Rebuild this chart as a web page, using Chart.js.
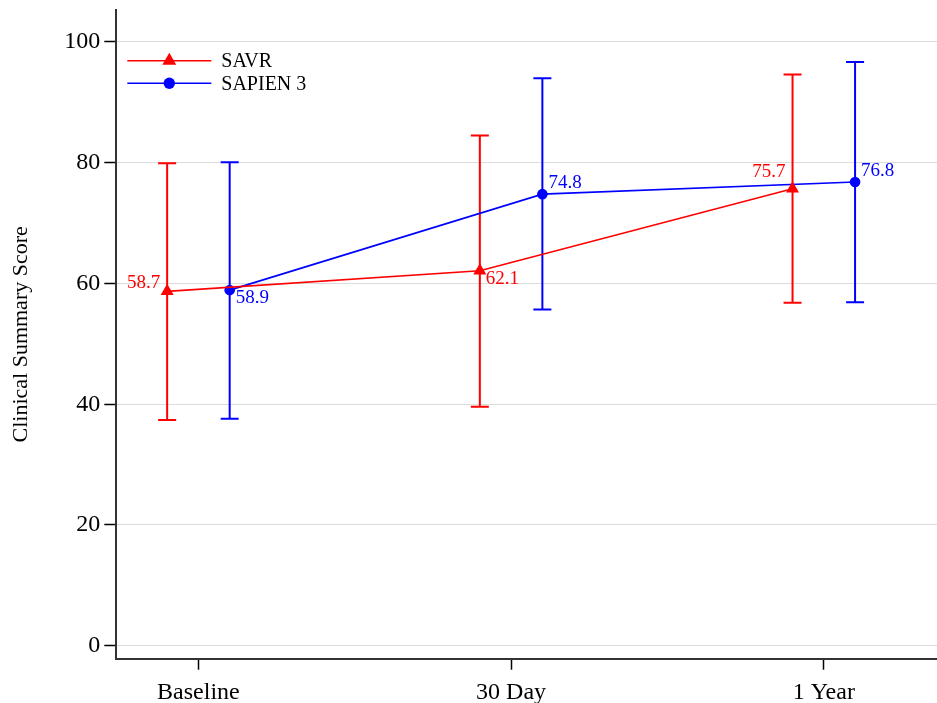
<!DOCTYPE html>
<html><head><meta charset="utf-8">
<script src="https://cdn.jsdelivr.net/npm/chart.js@4.4.1/dist/chart.umd.min.js"></script>
<style>html,body{margin:0;padding:0;background:#fff;overflow:hidden}canvas{display:block}</style>
</head><body><canvas id="c" width="937" height="703"></canvas>
<script>
// ---- data ----
const categories = ['Baseline', '30 Day', '1 Year'];
const seriesNames = ['SAVR', 'SAPIEN 3'];
const savrMean = [58.7, 62.1, 75.7];
const savrLow  = [37.4, 39.6, 56.8];
const savrHigh = [79.9, 84.5, 94.6];
const s3Mean = [58.9, 74.8, 76.8];
const s3Low  = [37.6, 55.7, 56.9];
const s3High = [80.1, 94.0, 96.7];
const yTicks = [0, 20, 40, 60, 80, 100];

// ---- style ----
const RED = 'rgb(255,0,0)', BLUE = 'rgb(0,0,255)';
const FONT = "'Liberation Serif', 'Times New Roman', serif";
const groupOffset = [-0.1, 0.1];
// label offsets in px from point: [dx, dy]; negative dx => right aligned to the left
const labelOffsets = [
  [[-7, -8], [6, 8], [-7, -17]],
  [[6, 8], [6, -11], [6, -11]]
];

Chart.defaults.font.family = FONT;

const lows = [savrLow, s3Low], highs = [savrHigh, s3High];

function pts(vals, off) { return vals.map((v, i) => ({ x: i + off, y: v })); }

const errorBars = {
  id: 'errorBars',
  beforeDatasetsDraw(chart) {
    const ctx = chart.ctx, ys = chart.scales.y;
    chart.data.datasets.forEach((ds, di) => {
      const meta = chart.getDatasetMeta(di);
      ctx.save();
      ctx.strokeStyle = ds.borderColor;
      ctx.lineWidth = 2;
      meta.data.forEach((el, i) => {
        const x = el.x, y1 = ys.getPixelForValue(lows[di][i]), y2 = ys.getPixelForValue(highs[di][i]);
        ctx.beginPath();
        ctx.moveTo(x, y1); ctx.lineTo(x, y2);
        ctx.moveTo(x - 9, y1); ctx.lineTo(x + 9, y1);
        ctx.moveTo(x - 9, y2); ctx.lineTo(x + 9, y2);
        ctx.stroke();
      });
      ctx.restore();
    });
  }
};

function drawMarker(ctx, style, x, y, r, color) {
  ctx.fillStyle = color;
  ctx.beginPath();
  if (style === 'triangle') {
    for (let k = 0; k < 3; k++) {
      const a = k * 2 * Math.PI / 3;
      const px = x + Math.sin(a) * r, py = y - Math.cos(a) * r;
      k === 0 ? ctx.moveTo(px, py) : ctx.lineTo(px, py);
    }
    ctx.closePath();
  } else {
    ctx.arc(x, y, r, 0, Math.PI * 2);
  }
  ctx.fill();
}

const labelsAndLegend = {
  id: 'labelsAndLegend',
  afterDatasetsDraw(chart) {
    const ctx = chart.ctx;
    ctx.save();
    ctx.font = '19px ' + FONT;
    ctx.textBaseline = 'middle';
    chart.data.datasets.forEach((ds, di) => {
      const meta = chart.getDatasetMeta(di);
      meta.data.forEach((el, i) => {
        const [dx, dy] = labelOffsets[di][i];
        ctx.fillStyle = ds.borderColor;
        ctx.textAlign = dx < 0 ? 'right' : 'left';
        ctx.fillText(ds.data[i].y.toFixed(1), el.x + dx, el.y + dy);
      });
    });
    // legend
    const ca = chart.chartArea;
    const lx0 = ca.left + 11, lx1 = ca.left + 95, tx = ca.left + 105;
    const rowY = [ca.top + 50.7, ca.top + 73.3];
    ctx.font = '20px ' + FONT;
    ctx.textAlign = 'left';
    chart.data.datasets.forEach((ds, di) => {
      const y = rowY[di];
      ctx.strokeStyle = ds.borderColor;
      ctx.lineWidth = 1.5;
      ctx.beginPath(); ctx.moveTo(lx0, y); ctx.lineTo(lx1, y); ctx.stroke();
      drawMarker(ctx, ds.pointStyle, (lx0 + lx1) / 2, y, ds.pointStyle === 'triangle' ? 8 : 5.7, ds.borderColor);
      ctx.fillStyle = '#000';
      ctx.fillText(ds.label, tx, y + 1);
    });
    ctx.restore();
  }
};

new Chart(document.getElementById('c'), {
  type: 'line',
  data: {
    datasets: [
      { label: seriesNames[0], data: pts(savrMean, groupOffset[0]), borderColor: RED, backgroundColor: RED,
        borderWidth: 1.6, pointStyle: 'triangle', pointRadius: 7.5, pointBorderWidth: 0, tension: 0 },
      { label: seriesNames[1], data: pts(s3Mean, groupOffset[1]), borderColor: BLUE, backgroundColor: BLUE,
        borderWidth: 1.6, pointStyle: 'circle', pointRadius: 5.3, pointBorderWidth: 0, tension: 0 }
    ]
  },
  options: {
    responsive: false, maintainAspectRatio: false, animation: false, devicePixelRatio: 1,
    layout: { autoPadding: false, padding: { top: 10, right: 0, left: 0, bottom: 0 } },
    plugins: { legend: { display: false }, tooltip: { enabled: false } },
    scales: {
      x: {
        type: 'linear', min: -0.2626, max: 2.362,
        afterBuildTicks: s => { s.ticks = categories.map((c, i) => ({ value: i })); },
        afterFit: s => { s.height = 44.3; s.paddingLeft = 0; s.paddingRight = 0; },
        ticks: { callback: v => categories[v], color: '#000', font: { size: 24 }, padding: 9, maxRotation: 0, autoSkip: false },
        grid: { drawOnChartArea: false, drawTicks: true, tickLength: 11, tickColor: '#000', tickWidth: 1.5 },
        border: { display: true, color: '#333', width: 2 }
      },
      y: {
        type: 'linear', min: -2.15, max: 105.3,
        afterBuildTicks: s => { s.ticks = yTicks.map(v => ({ value: v })); },
        afterFit: s => { s.width = 116.3; s.paddingTop = 0; s.paddingBottom = 0; },
        ticks: { color: '#000', font: { size: 24 }, padding: 4 },
        grid: { color: '#dcdcdc', lineWidth: 1, drawTicks: true, tickLength: 12, tickColor: '#000', tickWidth: 1.5 },
        border: { display: true, color: '#333', width: 2 },
        title: { display: true, text: 'Clinical Summary Score', color: '#000', font: { size: 22 }, padding: { top: 8, bottom: 0 } }
      }
    }
  },
  plugins: [errorBars, labelsAndLegend]
});
</script>
</body></html>
